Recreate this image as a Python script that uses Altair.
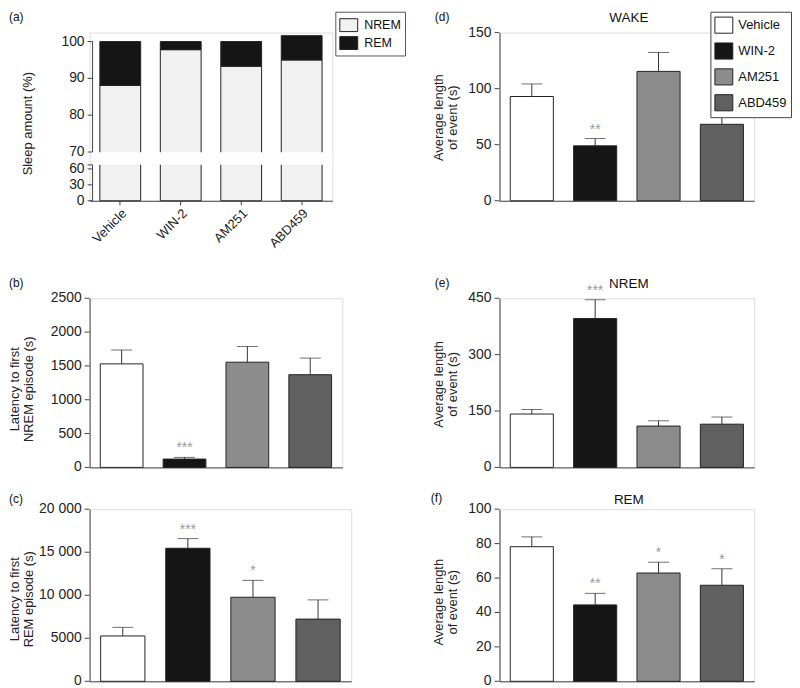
import altair as alt
import pandas as pd

FONT = "Liberation Sans"

groups = ["Vehicle", "WIN-2", "AM251", "ABD459"]
bar_colors = ["#ffffff", "#151515", "#8c8c8c", "#606060"]

# (a) sleep amount (%)
stages = ["NREM", "REM"]
stage_colors = ["#f1f1f1", "#151515"]
nrem_pct = [88.1, 97.8, 93.3, 95.0]
rem_pct = [11.9, 2.2, 6.7, 6.6]
a_ticks = [0, 30, 60, 70, 80, 90, 100]
a_labels = ["0", "30", "60", "70", "80", "90", "100"]

# (b) latency to first NREM episode (s)
b_mean = [1530, 123, 1555, 1370]
b_err = [205, 25, 232, 246]
b_stars = ["", "***", "", ""]
b_ticks = [0, 500, 1000, 1500, 2000, 2500]
b_labels = ["0", "500", "1000", "1500", "2000", "2500"]

# (c) latency to first REM episode (s)
c_mean = [5270, 15460, 9770, 7230]
c_err = [1000, 1120, 1960, 2230]
c_stars = ["", "***", "*", ""]
c_ticks = [0, 5000, 10000, 15000, 20000]
c_labels = ["0", "5000", "10 000", "15 000", "20 000"]

# (d) WAKE average length of event (s)
d_mean = [93.0, 49.0, 115.4, 68.2]
d_err = [11.2, 6.5, 16.9, 9.8]
d_stars = ["", "**", "", ""]
d_ticks = [0, 50, 100, 150]
d_labels = ["0", "50", "100", "150"]

# (e) NREM average length of event (s)
e_mean = [142, 396, 110, 115]
e_err = [12, 50, 14, 19]
e_stars = ["", "***", "", ""]
e_ticks = [0, 150, 300, 450]
e_labels = ["0", "150", "300", "450"]

# (f) REM average length of event (s)
f_mean = [78.2, 44.4, 62.9, 55.8]
f_err = [5.7, 6.7, 6.3, 9.6]
f_stars = ["", "**", "*", "*"]
f_ticks = [0, 20, 40, 60, 80, 100]
f_labels = ["0", "20", "40", "60", "80", "100"]

AXIS_COLOR = "#444"


def text_layer(txt, x, y, size, align="left", baseline="top", color="#111", opacity=1):
    return alt.Chart(pd.DataFrame({"t": [txt]})).mark_text(
        align=align, baseline=baseline, fontSize=size, font=FONT, color=color, opacity=opacity
    ).encode(x=alt.value(x), y=alt.value(y), text="t:N")


def y_axis(title, tx, ty, extra=None):
    kw = dict(title=title, titleX=tx, titleY=ty, titleAngle=-90,
              titleAlign="center", titleBaseline="middle", titleFontSize=13,
              titleFontWeight="normal", titleColor="#222", titleFont=FONT, titleLineHeight=14,
              labels=False, ticks=False, domainColor=AXIS_COLOR, grid=False)
    if extra:
        kw.update(extra)
    return alt.Axis(**kw)


def tick_layers(ticks, labels, yscale, axis_x, tick_only=None):
    tdf = pd.DataFrame({"v": ticks, "lab": labels})
    tk_vals = list(ticks) + (tick_only or [])
    kdf = pd.DataFrame({"v": tk_vals})
    tks = alt.Chart(kdf).mark_rule(color=AXIS_COLOR, strokeWidth=1).encode(
        y=alt.Y("v:Q", scale=yscale), x=alt.value(axis_x - 5), x2=alt.value(axis_x))
    labs = alt.Chart(tdf).mark_text(align="right", baseline="middle", fontSize=14,
                                    font=FONT, color="#222").encode(
        y=alt.Y("v:Q", scale=yscale), x=alt.value(axis_x - 8), text="lab:N")
    return [tks, labs]


def panel(mean, err, stars, ticks, labels, title, tx, ty, letter, lx, ly, w, h,
          heading=None, hy=None, legend=None, dummy_y=None):
    df = pd.DataFrame({"group": groups, "mean": mean,
                       "upper": [m + e for m, e in zip(mean, err)], "star": stars})
    yscale = alt.Scale(domain=[0, ticks[-1]], nice=False, zero=True)
    xscale = alt.Scale(domain=groups, paddingInner=0.32, paddingOuter=0.17)
    xenc = alt.X("group:N", sort=groups, scale=xscale,
                 axis=alt.Axis(labels=False, ticks=False, title=None, domainColor=AXIS_COLOR))
    base = alt.Chart(df)
    fill_kw = dict(scale=alt.Scale(domain=groups, range=bar_colors))
    fill_kw["legend"] = legend if legend is not None else None
    bars = base.mark_bar(stroke="#222", strokeWidth=1).encode(
        x=xenc,
        y=alt.Y("mean:Q", scale=yscale, axis=y_axis(title, tx, ty)),
        fill=alt.Fill("group:N", **fill_kw),
    )
    rule = base.mark_rule(color="#333", strokeWidth=1).encode(
        x=xenc, y=alt.Y("mean:Q", scale=yscale), y2="upper:Q")
    cap = base.mark_tick(color="#333", thickness=1, size=21).encode(
        x=xenc, y=alt.Y("upper:Q", scale=yscale))
    star = base.mark_text(baseline="bottom", dy=-2, fontSize=14, color="#999", font=FONT).encode(
        x=xenc, y=alt.Y("upper:Q", scale=yscale), text="star:N")
    layers = [bars, rule, cap, star] + tick_layers(ticks, labels, yscale, 0)
    layers.append(text_layer(letter, lx, ly, 12))
    if heading:
        layers.append(text_layer(heading, 130, hy, 13.5, align="center", baseline="middle"))
    if dummy_y is not None:
        layers.append(text_layer(".", lx, dummy_y, 12, opacity=0))
    return alt.layer(*layers).properties(width=w, height=h)


# ---- panel (a) ----
a_rows = []
for g, n, r in zip(groups, nrem_pct, rem_pct):
    a_rows.append({"group": g, "stage": "NREM", "lo": 0, "hi": n})
    a_rows.append({"group": g, "stage": "REM", "lo": n, "hi": n + r})
a_df = pd.DataFrame(a_rows)

A_W, A_H = 244, 169
a_yscale = alt.Scale(domain=[0, 60, 70, 100, 102.43], range=[169, 137, 120, 9, 0],
                     nice=False, zero=False)
a_x = alt.X("group:N", sort=groups,
            scale=alt.Scale(domain=groups, paddingInner=0.325, paddingOuter=0.17),
            axis=alt.Axis(title=None, labelAngle=-45, labelFontSize=13, labelColor="#222",
                          labelFont=FONT, tickSize=4, tickColor=AXIS_COLOR,
                          domainColor=AXIS_COLOR, labelPadding=2))
a_legend = alt.Legend(title=None, orient="none", legendX=247, legendY=-21,
                      strokeColor="#555", padding=4, fillColor="white",
                      symbolType="M-1,-0.72H1V0.72H-1Z", symbolSize=324,
                      symbolStrokeColor="#222", symbolStrokeWidth=1,
                      labelFontSize=12.5, labelFont=FONT, labelColor="#111",
                      rowPadding=0, labelOffset=6)
a_bars = alt.Chart(a_df).mark_bar(stroke="#222", strokeWidth=1).encode(
    x=a_x,
    y=alt.Y("lo:Q", scale=a_yscale,
            axis=y_axis("Sleep amount (%)", -65, 91, {"domain": False, "offset": -3})),
    y2="hi:Q",
    fill=alt.Fill("stage:N", scale=alt.Scale(domain=stages, range=stage_colors), legend=a_legend),
)
gap_df = pd.DataFrame({"lo": [62.4], "hi": [69.85]})
a_gap = alt.Chart(gap_df).mark_rect(color="white").encode(
    y=alt.Y("lo:Q", scale=a_yscale), y2="hi:Q", x=alt.value(4), x2=alt.value(A_W))
seg_df = pd.DataFrame({"lo": [0, 70], "hi": [62.4, 100]})
a_axis = alt.Chart(seg_df).mark_rule(color=AXIS_COLOR, strokeWidth=1).encode(
    y=alt.Y("lo:Q", scale=a_yscale), y2="hi:Q", x=alt.value(3))
panel_a = alt.layer(a_bars, a_gap, a_axis,
                    *tick_layers(a_ticks, a_labels, a_yscale, 3, tick_only=[62.4]),
                    text_layer("(a)", -81, -21, 12)).properties(width=A_W, height=A_H)

d_legend = alt.Legend(title=None, orient="none", legendX=212, legendY=-21,
                      strokeColor="#444", padding=4, fillColor="white",
                      symbolType="M-1,-0.9H1V0.9H-1Z", symbolSize=324,
                      symbolStrokeColor="#222", symbolStrokeWidth=1,
                      labelFontSize=13, labelFont=FONT, labelColor="#111",
                      rowPadding=5, labelOffset=5)

panel_b = panel(b_mean, b_err, b_stars, b_ticks, b_labels, ["Latency to first", "NREM episode (s)"],
                -75, 91, "(b)", -81, -20, 254, 170, dummy_y=-30)
panel_c = panel(c_mean, c_err, c_stars, c_ticks, c_labels, ["Latency to first", "REM episode (s)"],
                -75, 90, "(c)", -81, -15, 263, 173)
panel_d = panel(d_mean, d_err, d_stars, d_ticks, d_labels, ["Average length", "of event (s)"],
                -61, 85, "(d)", -65, -21, 256, 169, heading="WAKE", hy=-15, legend=d_legend)
panel_e = panel(e_mean, e_err, e_stars, e_ticks, e_labels, ["Average length", "of event (s)"],
                -61, 86, "(e)", -65, -20, 256, 170, heading="NREM", hy=-14)
panel_f = panel(f_mean, f_err, f_stars, f_ticks, f_labels, ["Average length", "of event (s)"],
                -61, 93, "(f)", -69, -16, 256, 173, heading="REM", hy=-9)

chart = alt.concat(panel_a, panel_d, panel_b, panel_e, panel_c, panel_f, columns=2,
                   spacing={"row": 16, "column": 24}).resolve_scale(
    fill="independent").resolve_legend(fill="independent").properties(
    padding=0).configure_view(stroke=None).configure(font=FONT, background="white")

chart.save("out.html", embed_options={"renderer": "svg", "actions": False})
